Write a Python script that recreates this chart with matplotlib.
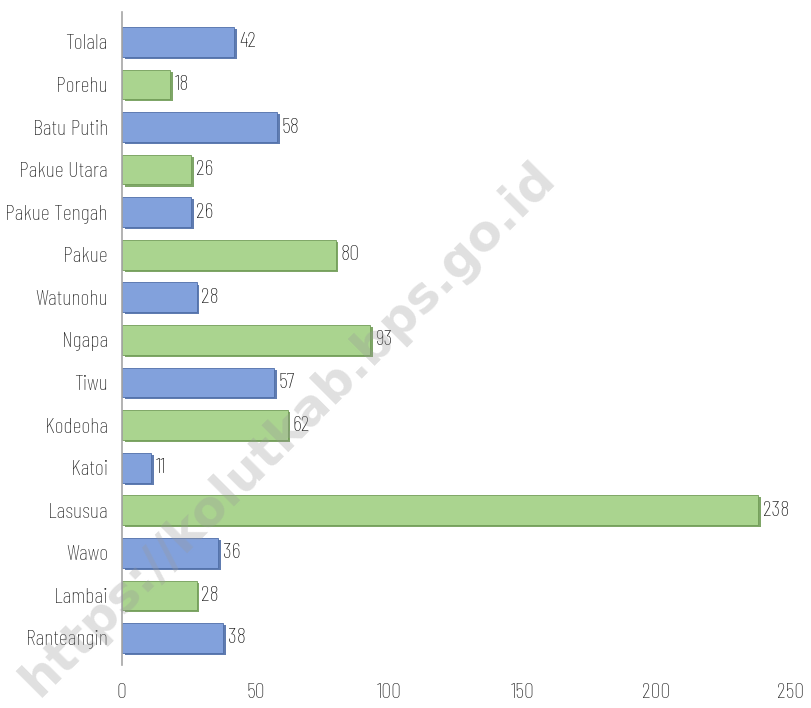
import matplotlib.pyplot as plt
import matplotlib.patheffects as pe

villages = ["Tolala", "Porehu", "Batu Putih", "Pakue Utara", "Pakue Tengah",
            "Pakue", "Watunohu", "Ngapa", "Tiwu", "Kodeoha", "Katoi",
            "Lasusua", "Wawo", "Lambai", "Ranteangin"]
values = [42, 18, 58, 26, 26, 80, 28, 93, 57, 62, 11, 238, 36, 28, 38]
x_ticks = [0, 50, 100, 150, 200, 250]

plt.rcParams["font.family"] = ["Barlow Condensed", "DejaVu Sans"]
plt.rcParams["font.weight"] = "light"

blue, blue_dark = "#82a1dc", "#4f6ea8"
green, green_dark = "#aad48f", "#719c57"

fig = plt.figure(figsize=(8.12, 7.08), dpi=100)
ax = fig.add_axes([0.150, 0.061, 0.823, 0.922])

pos = list(range(len(villages)))[::-1]
colors = [blue if i % 2 == 0 else green for i in range(len(villages))]
edges = [blue_dark if i % 2 == 0 else green_dark for i in range(len(villages))]

bars = ax.barh(pos, values, height=0.7, color=colors, edgecolor=edges, linewidth=0.6)
for b, ec in zip(bars, edges):
    b.set_path_effects([pe.SimplePatchShadow(offset=(2, -1.5), shadow_rgbFace=ec, alpha=0.9),
                        pe.Normal()])

for p, v in zip(pos, values):
    ax.text(v + 1.8, p, str(v), va="center", ha="left", fontsize=16, color="#1a1a1a")

ax.set_xlim(0, 250)
ax.set_ylim(-0.63, 14.7)
ax.set_yticks(pos)
ax.set_yticklabels(villages, fontsize=16, color="#2a2a2a")
ax.set_xticks(x_ticks)
ax.set_xticklabels([str(t) for t in x_ticks], fontsize=16, color="#2a2a2a")
ax.tick_params(axis="both", length=0)
ax.tick_params(axis="x", pad=13)
ax.tick_params(axis="y", pad=10)

for side in ["top", "right", "bottom"]:
    ax.spines[side].set_visible(False)
ax.spines["left"].set_color("#a6a6a6")
ax.spines["left"].set_linewidth(1.2)

fig.text(0.355, 0.395, "https://kolutkab.bps.go.id", fontsize=36, fontweight="bold",
         color="#9a9a9a", alpha=0.3, rotation=45, ha="center", va="center",
         family="DejaVu Sans")

fig.savefig("out.png", dpi=100)
